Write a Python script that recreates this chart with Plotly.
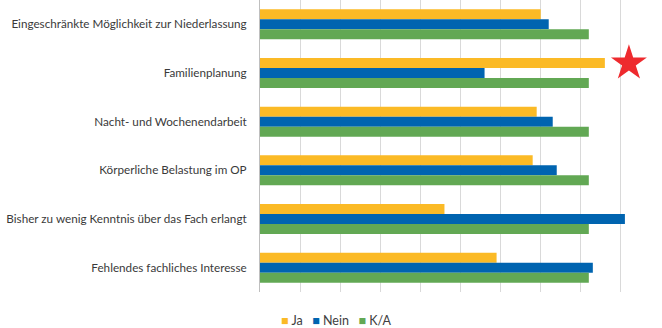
import plotly.graph_objects as go

categories = [
    "Eingeschränkte Möglichkeit zur Niederlassung",
    "Familienplanung",
    "Nacht- und Wochenendarbeit",
    "Körperliche Belastung im OP",
    "Bisher zu wenig Kenntnis über das Fach erlangt",
    "Fehlendes fachliches Interesse",
]
ja = [7.0, 8.6, 6.9, 6.8, 4.6, 5.9]
nein = [7.2, 5.6, 7.3, 7.4, 9.1, 8.3]
ka = [8.2, 8.2, 8.2, 8.2, 8.2, 8.2]
series_names = ["Ja", "Nein", "K/A"]
colors = ["#FBBA26", "#0064B0", "#62A854"]

star_category = "Familienplanung"
star_value = 9.2

ypos = list(range(len(categories)))

fig = go.Figure()
for name, vals, col in zip(series_names, [ja, nein, ka], colors):
    fig.add_trace(go.Bar(
        y=ypos, x=vals, name=name, orientation="h",
        marker=dict(color=col, line=dict(width=0)),
        showlegend=False,
    ))

star_idx = categories.index(star_category)
fig.add_trace(go.Scatter(
    x=[star_value], y=[star_idx - 0.2], mode="markers",
    marker=dict(symbol="star", size=27, color="#EE2A2E", line=dict(width=0)),
    showlegend=False, cliponaxis=False, hoverinfo="skip",
))

legend_text = "   ".join(
    f'<span style="color:{c}">■</span> {n}' for n, c in zip(series_names, colors)
)
fig.add_annotation(
    text=legend_text, xref="paper", yref="paper", x=(336 - 260) / 401, y=-0.096,
    xanchor="center", yanchor="middle", showarrow=False,
    font=dict(size=12.5, color="#404040"),
)

fig.update_layout(
    width=662, height=328,
    margin=dict(l=260, r=1, t=0, b=36, autoexpand=False),
    paper_bgcolor="white", plot_bgcolor="white",
    barmode="group", bargap=0.385, bargroupgap=0,
    font=dict(family="Lato, Open Sans, sans-serif", size=11.7, color="#3A3A3A"),
    showlegend=False,
)
fig.update_xaxes(range=[0, 10], dtick=1, showgrid=True, gridcolor="#D9D9D9", gridwidth=1,
                 showticklabels=False, zeroline=False, showline=False, fixedrange=True,
                 automargin=False)
fig.update_yaxes(tickmode="array", tickvals=ypos, ticktext=categories,
                 range=[len(categories) - 0.5, -0.5], showgrid=False, zeroline=False,
                 showline=True, linecolor="#BFBFBF", linewidth=1, automargin=False,
                 ticks="", ticklabelstandoff=10, fixedrange=True)

fig.write_html("out.html", config={"displayModeBar": False, "staticPlot": True},
               post_script="document.body.style.margin='0';document.body.style.overflow='hidden';")
